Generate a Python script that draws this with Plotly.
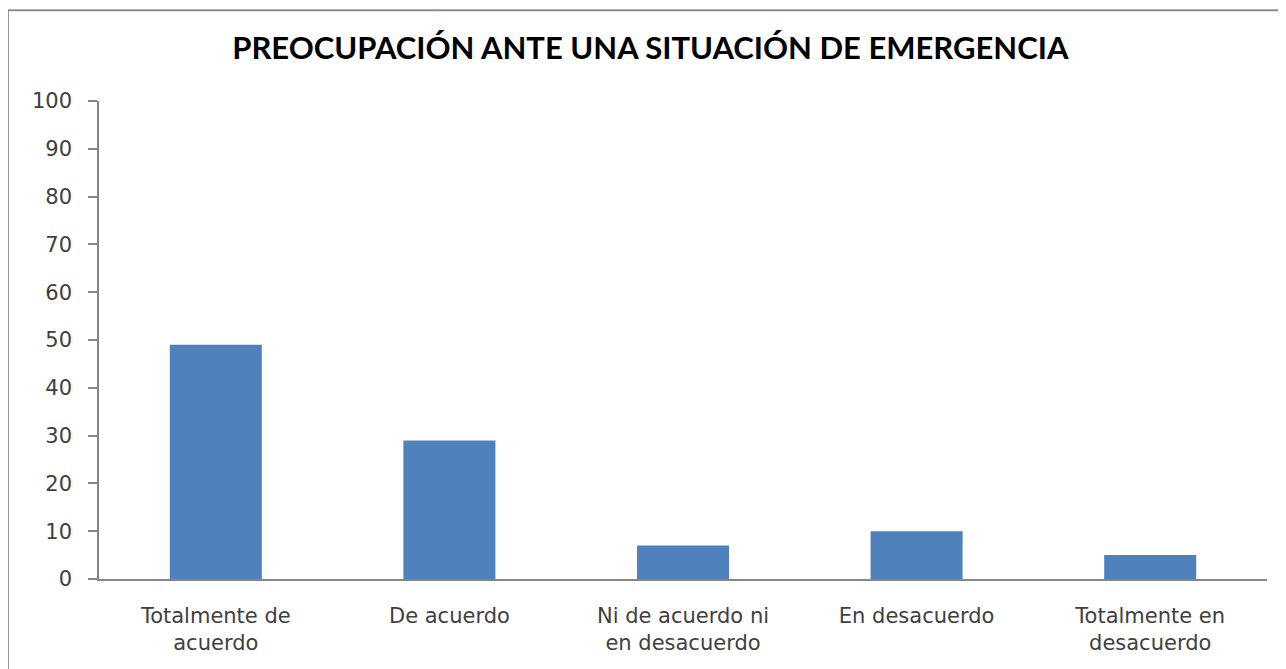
import plotly.graph_objects as go

# Data
categorias = [
    "Totalmente de<br>acuerdo",
    "De acuerdo",
    "Ni de acuerdo ni<br>en desacuerdo",
    "En desacuerdo",
    "Totalmente en<br>desacuerdo",
]
valores = [49, 29, 7, 10, 5]
y_ticks = [0, 10, 20, 30, 40, 50, 60, 70, 80, 90, 100]

titulo = "<b>PREOCUPACIÓN ANTE UNA SITUACIÓN DE EMERGENCIA</b>"

fig = go.Figure()
fig.add_trace(go.Bar(
    x=categorias,
    y=valores,
    marker=dict(color="#4F81BD", line=dict(width=0)),
    width=0.394,
    hoverinfo="x+y",
))

axis_grey = "#868686"
label_font = dict(family="DejaVu Sans", size=21, color="#404040")

fig.update_layout(
    width=1286, height=669,
    margin=dict(l=91, r=27, t=93, b=98),
    paper_bgcolor="white",
    plot_bgcolor="white",
    showlegend=False,
    title=dict(
        text=titulo,
        x=0.4995, xanchor="center",
        y=0.94, yanchor="middle",
        font=dict(family="Lato", size=31, color="black"),
    ),
    xaxis=dict(
        showline=True, linecolor=axis_grey, linewidth=1.5,
        ticks="", showgrid=False, zeroline=False,
        tickfont=label_font,
        ticklabelstandoff=17,
    ),
    yaxis=dict(
        range=[0, 100],
        tickvals=y_ticks,
        showline=True, linecolor=axis_grey, linewidth=1.5,
        ticks="outside", ticklen=9, tickcolor=axis_grey, tickwidth=1.5,
        showgrid=False, zeroline=False,
        tickfont=label_font,
        ticklabelstandoff=12,
    ),
)

# Chart border (top and left edges visible in the reference)
fig.add_shape(type="line", xref="paper", yref="paper",
              x0=-0.078, x1=1.05, y0=1.19, y1=1.19,
              line=dict(color="#8c8c8c", width=2))
fig.add_shape(type="line", xref="paper", yref="paper",
              x0=-0.078, x1=-0.078, y0=-0.3, y1=1.19,
              line=dict(color="#8c8c8c", width=2))

fig.write_html("out.html")
